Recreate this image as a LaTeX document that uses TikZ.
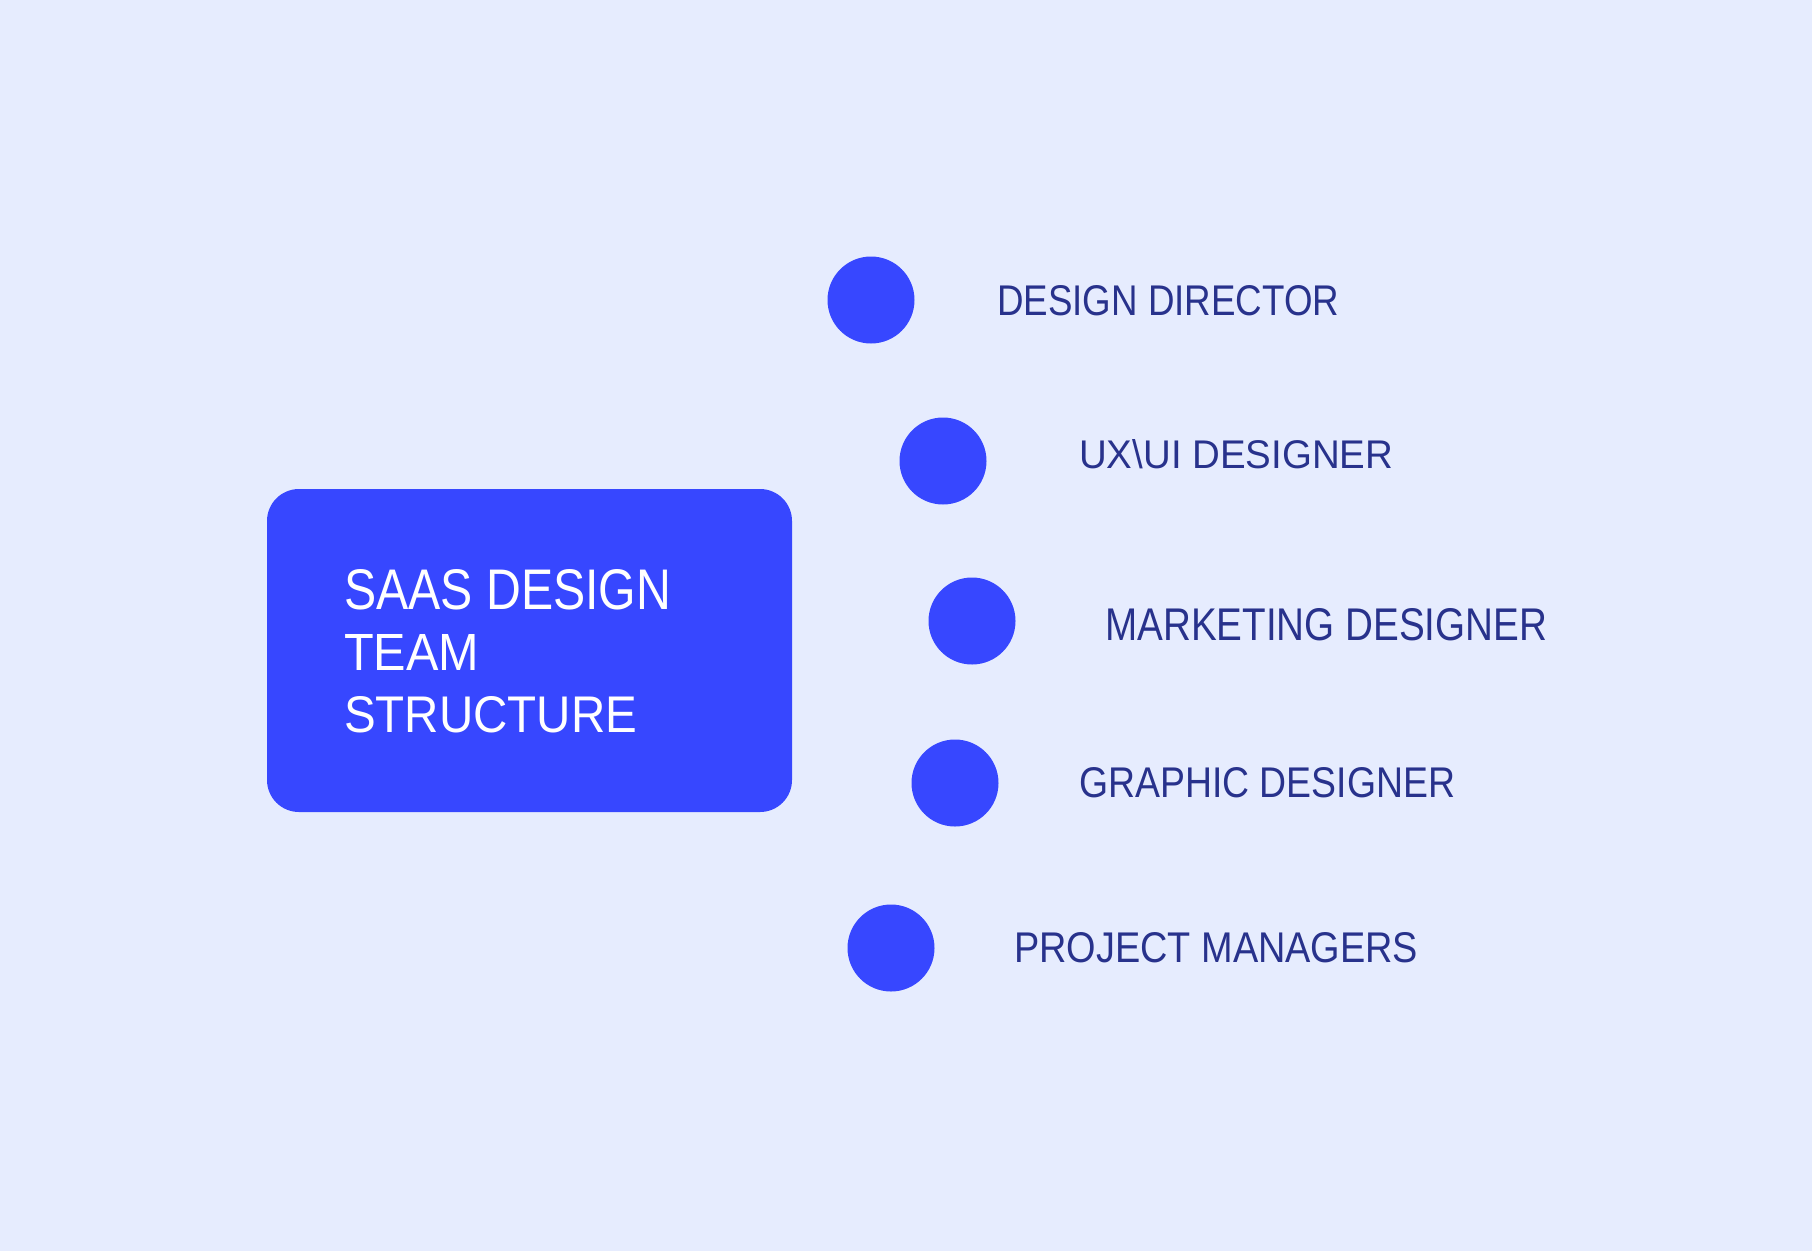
\documentclass[tikz,border=0pt]{standalone}
\usepackage{fontspec}
\setmainfont{Liberation Sans}
\usepackage{graphicx}
\definecolor{bgcol}{RGB}{230,236,254}
\definecolor{bluecol}{RGB}{55,71,255}
\definecolor{navycol}{RGB}{40,50,140}
\newcommand\fitlbl[3]{\resizebox{#1pt}{#2pt}{#3}}
\tikzset{
  dot/.style={circle, fill=bluecol, draw=none, minimum size=87pt, inner sep=0pt},
  rolelbl/.style={anchor=south west, inner sep=0pt, text=navycol},
  titlelbl/.style={anchor=south west, inner sep=0pt, text=white},
  mainbox/.style={fill=bluecol, draw=none, rounded corners=32pt}
}
\begin{document}
\begin{tikzpicture}[x=1pt,y=-1pt]
\fill[bgcol] (0,0) rectangle (1812,1251);
\useasboundingbox (0,0) rectangle (1812,1251);
% main box
\node[mainbox, minimum width=525pt, minimum height=323pt, inner sep=0pt] (box) at (529.5,650.5) {};
\node[titlelbl] (t1) at (344,610) {\fitlbl{327}{40}{SAAS DESIGN}};
\node[titlelbl] (t2) at (344,671) {\fitlbl{135}{36}{TEAM}};
\node[titlelbl] (t3) at (344,733) {\fitlbl{293}{36}{STRUCTURE}};
% dots
\node[dot] (d1) at (871,300) {};
\node[dot] (d2) at (943,461) {};
\node[dot] (d3) at (972,621) {};
\node[dot] (d4) at (955,783) {};
\node[dot] (d5) at (891,948) {};
% labels
\node[rolelbl] (l1) at (997,316) {\fitlbl{342}{30}{DESIGN DIRECTOR}};
\node[rolelbl] (l2) at (1079,469) {\fitlbl{314}{29}{UX\textbackslash UI DESIGNER}};
\node[rolelbl] (l3) at (1105,641) {\fitlbl{442}{32}{MARKETING DESIGNER}};
\node[rolelbl] (l4) at (1079,798) {\fitlbl{376}{30}{GRAPHIC DESIGNER}};
\node[rolelbl] (l5) at (1014,963) {\fitlbl{404}{30}{PROJECT MANAGERS}};
\end{tikzpicture}
\end{document}
